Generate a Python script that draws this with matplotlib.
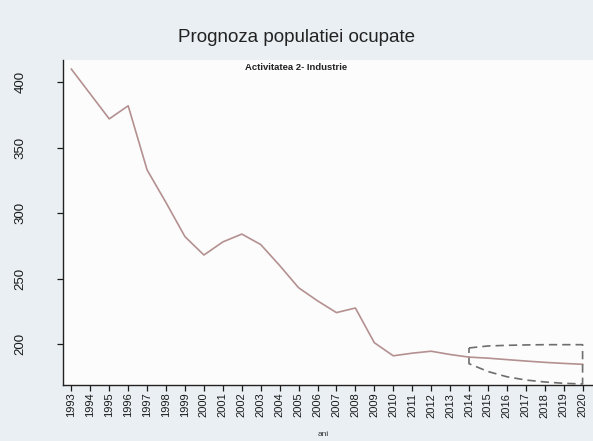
import numpy as np
import matplotlib
matplotlib.use("Agg")
import matplotlib.pyplot as plt

plt.rcParams['font.family'] = ['Liberation Sans', 'DejaVu Sans']

years = list(range(1993, 2015))
values = [410, 391, 372, 382, 333, 308, 282, 268, 278, 284, 276, 260,
          243, 233, 224, 227.5, 201, 191, 193, 194.5, 192, 190]

# forecast and its interval
years_f = list(range(2014, 2021))
forecast = [190, 189.2, 188.1, 187.0, 186.0, 185.2, 184.5]
upper = [197, 198.5, 199, 199.3, 199.5, 199.5, 199.5]
lower = [185, 179, 175, 172.5, 171, 170, 169.5]

fig = plt.figure(figsize=(5.93, 4.41), dpi=100, facecolor='#e9eff2')
ax = fig.add_axes([0.106, 0.127, 0.894, 0.737])
ax.set_facecolor('#fcfcfc')

line_col = '#b49090'
ax.plot(years, values, color=line_col, linewidth=1.2)
ax.plot(years_f, forecast, color=line_col, linewidth=1.2)

# interval drawn as a dashed closed outline
bx = years_f + years_f[::-1] + [years_f[0]]
by = upper + lower[::-1] + [upper[0]]
ax.plot(bx, by, color='#6e6e6e', linewidth=1.2, linestyle=(0, (5, 3)))

ax.set_xlim(1992.55, 2020.55)
ax.set_ylim(168.7, 417)

ax.set_xticks(range(1993, 2021))
ax.set_xticklabels([str(y) for y in range(1993, 2021)], rotation=90, fontsize=8)
ax.set_yticks([200, 250, 300, 350, 400])
ax.set_yticklabels(['200', '250', '300', '350', '400'], rotation=90, va='center', fontsize=9.5)

ax.tick_params(axis='x', direction='out', length=4, width=0.9, pad=1.5, colors='#1a1a1a')
ax.tick_params(axis='y', direction='out', length=4, width=0.9, pad=22, colors='#1a1a1a')

for s in ['top', 'right']:
    ax.spines[s].set_visible(False)
for s in ['left', 'bottom']:
    ax.spines[s].set_linewidth(1.0)
    ax.spines[s].set_color('#222222')

fig.text(0.5, 0.915, 'Prognoza populatiei ocupate', ha='center', va='center',
         fontsize=13.5, color='#222222')
fig.text(0.5, 0.848, 'Activitatea 2- Industrie', ha='center', va='center',
         fontsize=6.8, color='#222222', fontweight='bold')
fig.text(0.545, 0.006, 'ani', ha='center', va='bottom', fontsize=6, color='#333333')

fig.savefig('out.png', dpi=100, facecolor=fig.get_facecolor())
